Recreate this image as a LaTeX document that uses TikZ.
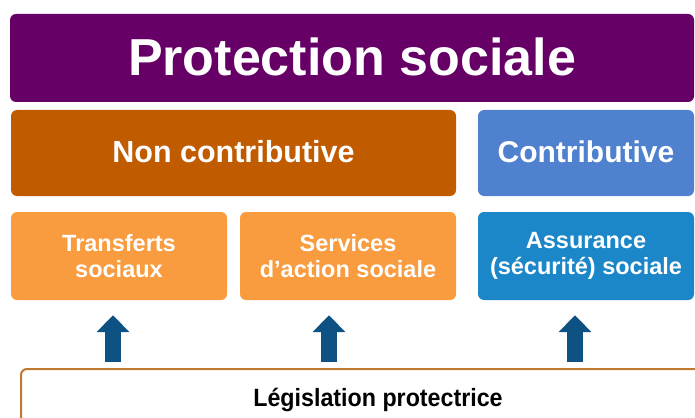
\documentclass[tikz,border=0pt]{standalone}
\usepackage{fontspec}
\setmainfont{Liberation Sans}
\usetikzlibrary{arrows.meta}
\definecolor{cpurple}{HTML}{660066}
\definecolor{cbrown}{HTML}{C05B00}
\definecolor{cblue}{HTML}{4F81CF}
\definecolor{corange}{HTML}{F89C3F}
\definecolor{cdeep}{HTML}{1B87C9}
\definecolor{carrow}{HTML}{0D5282}
\definecolor{cborder}{HTML}{C07A30}
\begin{document}
\begin{tikzpicture}[x=1pt,y=-1pt,
  box/.style={rounded corners=6pt, inner sep=0pt, text=white, font=\bfseries, align=center},
  bigbox/.style={box, minimum height=86pt},
  smallbox/.style={box, minimum height=88pt, font=\bfseries\fontsize{23.5}{25.5}\selectfont},
  bigarrow/.style={carrow, line width=16pt, -{Triangle[length=17pt,width=32pt]}}]
\useasboundingbox (0,0) rectangle (695,417);
\clip (0,0) rectangle (695,417);
\fill[white] (0,0) rectangle (695,417);
% title
\node[box, fill=cpurple, minimum width=684pt, minimum height=88pt] (ps) at (352,58)
  {\fontsize{52}{56}\selectfont\raisebox{2pt}{Protection sociale}};
% second row
\node[bigbox, fill=cbrown, minimum width=445pt] (nc) at (233.5,153)
  {\fontsize{30.5}{32}\selectfont\raisebox{3pt}{Non contributive}};
\node[bigbox, fill=cblue, minimum width=216pt] (co) at (586,153)
  {\fontsize{30}{32}\selectfont\raisebox{3pt}{Contributive}};
% third row
\node[smallbox, fill=corange, minimum width=216pt] (tr) at (119,256) {Transferts\\sociaux};
\node[smallbox, fill=corange, minimum width=216pt] (sv) at (348,256) {Services\\d’action sociale};
\node[smallbox, fill=cdeep, minimum width=216pt] (as) at (586,256) {\raisebox{-2pt}{Assurance}\\\raisebox{-2pt}{(sécurité) sociale}};
% bottom box
\node[draw=cborder, line width=2pt, fill=white, rounded corners=6pt, inner sep=0pt,
  minimum width=720pt, minimum height=80pt, anchor=north west] (leg) at (20,368) {};
\node[anchor=base, inner sep=0pt, font=\bfseries\fontsize{25}{28}\selectfont] (legtext) at (378,406)
  {\scalebox{0.93}[1]{Législation protectrice}};
% arrows
\coordinate (a1) at (113,362);
\coordinate (a2) at (329,362);
\coordinate (a3) at (575,362);
\draw[bigarrow] (a1) -- ([yshift=-15pt]a1 |- tr.south);
\draw[bigarrow] (a2) -- ([yshift=-15pt]a2 |- sv.south);
\draw[bigarrow] (a3) -- ([yshift=-15pt]a3 |- as.south);
\end{tikzpicture}
\end{document}
